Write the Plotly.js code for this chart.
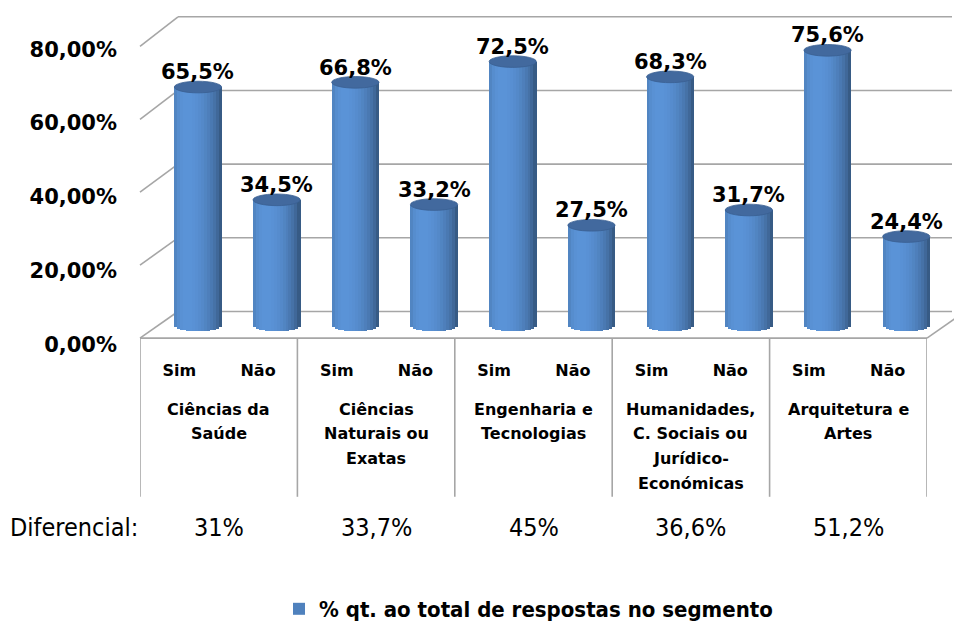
<!DOCTYPE html>
<html><head><meta charset="utf-8">
<script src="https://cdn.plot.ly/plotly-3.0.1.min.js"></script>
<style>html,body{margin:0;padding:0;background:#fff}#chart{width:954px;height:630px}</style>
</head><body><div id="chart"></div>
<script>
// ---- data ----
const categories = ["Ciências da<br>Saúde", "Ciências<br>Naturais ou<br>Exatas", "Engenharia e<br>Tecnologias", "Humanidades,<br>C. Sociais ou<br>Jurídico-<br>Económicas", "Arquitetura e<br>Artes"];
const responses = ["Sim", "Não"];
const simValues = [65.5, 66.8, 72.5, 68.3, 75.6];
const naoValues = [34.5, 33.2, 27.5, 31.7, 24.4];
const diferencial = ["31%", "33,7%", "45%", "36,6%", "51,2%"];
const diferencialLabel = "Diferencial:";
const yTicks = [0, 20, 40, 60, 80];
const yTickLabels = ["0,00%", "20,00%", "40,00%", "60,00%", "80,00%"];
const seriesName = "% qt. ao total de respostas no segmento";

// ---- derived ----
const vals = [], xs = [], tickText = [];
categories.forEach((c, g) => {
  vals.push(simValues[g], naoValues[g]);
  xs.push(2 * g, 2 * g + 1);
  tickText.push(responses[0], responses[1]);
});
const fmt = v => v.toFixed(1).replace('.', ',') + '%';

const W = 954, H = 630;
const px = p => p / W, py = p => 1 - p / H;
const BOLD = "DejaVu Sans";
const NARROW = "DejaVu Sans Condensed";
const gridColor = '#a6a6a6';

// cylinder geometry (style)
const BW = 0.6;      // cylinder width in category units
const E = 1.6;       // ellipse half-height in value units
const K = 16;        // shading strips
const base = [79, 129, 189];
function shade(t) {
  const nx = 2 * t - 1;
  const f = 0.74 + 0.40 * Math.cos(Math.asin(Math.max(-1, Math.min(1, nx))) + 0.45);
  const c = base.map(b => Math.max(0, Math.min(255, Math.round(b * f))));
  return `rgb(${c[0]},${c[1]},${c[2]})`;
}

const traces = [];
traces.push({
  type: 'bar', x: xs, y: vals, base: 0, width: BW * 0.97, cliponaxis: false,
  xaxis: 'x2', yaxis: 'y2', name: seriesName, showlegend: true,
  marker: {color: '#4f81bd', line: {width: 0}}, hoverinfo: 'skip'
});
for (let k = 0; k < K; k++) {
  const tc = (k + 0.5) / K;
  const uc = 2 * tc - 1;
  const b = -E * Math.sqrt(1 - uc * uc);
  traces.push({
    type: 'bar', x: xs, y: vals.map(v => v - b), base: b, cliponaxis: false,
    offset: -BW / 2 + k * BW / K, width: BW / K * 1.08,
    xaxis: 'x2', yaxis: 'y2', showlegend: false, hoverinfo: 'skip',
    marker: {color: shade(tc), line: {width: 0}}
  });
}

const shapes = [];
vals.forEach((v, i) => {
  shapes.push({type: 'circle', xref: 'x2', yref: 'y2', x0: xs[i] - BW / 2, x1: xs[i] + BW / 2,
    y0: v - E, y1: v + E, fillcolor: '#42699e', line: {color: '#3a5f92', width: 0.8}, layer: 'above'});
});
// 3D frame: back wall gridlines and side-wall diagonals
const frontY = v => 343 - v * (343 - 47) / 80;
const backY = v => 316 - v * (316 - 17) / 80;
yTicks.forEach(v => {
  shapes.push({type: 'line', xref: 'paper', yref: 'paper', x0: px(140), y0: py(frontY(v)), x1: px(178), y1: py(backY(v)),
    line: {color: gridColor, width: 1.6}, layer: 'below'});
  shapes.push({type: 'line', xref: 'paper', yref: 'paper', x0: px(178), y0: py(backY(v)), x1: px(952), y1: py(backY(v)),
    line: {color: gridColor, width: 1.6}, layer: 'below'});
});
shapes.push({type: 'line', xref: 'paper', yref: 'paper', x0: px(140), y0: py(343), x1: px(927), y1: py(343), line: {color: gridColor, width: 1.6}, layer: 'below'});
shapes.push({type: 'line', xref: 'paper', yref: 'paper', x0: px(927), y0: py(343), x1: px(965), y1: py(316), line: {color: gridColor, width: 1.6}, layer: 'below'});
for (let g = 0; g <= categories.length; g++) {
  shapes.push({type: 'line', xref: 'x3', yref: 'paper', x0: 2 * g - 0.5, x1: 2 * g - 0.5, y0: py(343), y1: py(504),
    line: {color: gridColor, width: 1.6}, layer: 'below'});
}

const annotations = [];
vals.forEach((v, i) => {
  annotations.push({xref: 'x2', yref: 'y2', x: xs[i], y: v + E, yanchor: 'bottom', yshift: -5, showarrow: false,
    text: fmt(v), font: {family: BOLD, size: 21, color: '#000', weight: 'bold'}});
});
categories.forEach((c, g) => {
  c.split('<br>').forEach((line, j) => {
    annotations.push({xref: 'x3', yref: 'paper', x: 2 * g + 0.5, y: py(415 + 25 * j), yanchor: 'middle', showarrow: false,
      text: line, font: {family: BOLD, size: 16, color: '#000', weight: 'bold'}});
  });
  annotations.push({xref: 'x3', yref: 'paper', x: 2 * g + 0.5, y: py(535), yanchor: 'middle', showarrow: false,
    text: diferencial[g], font: {family: NARROW, size: 25, color: '#000'}});
});
annotations.push({xref: 'paper', yref: 'paper', x: px(8), y: py(535), xanchor: 'left', yanchor: 'middle', showarrow: false,
  text: diferencialLabel, font: {family: NARROW, size: 25, color: '#000'}});

const hidden = {showgrid: false, zeroline: false, showticklabels: false, showline: false, ticks: '', fixedrange: true};
const layout = {
  width: W, height: H, margin: {l: 0, r: 0, t: 0, b: 0},
  paper_bgcolor: '#fff', plot_bgcolor: 'rgba(0,0,0,0)',
  barmode: 'overlay', bargap: 0,
  showlegend: true,
  legend: {orientation: 'h', x: px(279), xanchor: 'left', y: py(618), yanchor: 'middle',
    font: {family: NARROW, size: 22, color: '#000', weight: 'bold'}, bgcolor: 'rgba(0,0,0,0)', itemwidth: 30},
  xaxis2: Object.assign({}, hidden, {domain: [px(158.6), px(945.6)], range: [-0.5, 9.5], anchor: 'y2'}),
  yaxis2: Object.assign({}, hidden, {domain: [py(344.8), py(34.8)], range: [-4, 80], anchor: 'x2'}),
  xaxis3: Object.assign({}, hidden, {domain: [px(140), px(927)], range: [-0.5, 9.5], anchor: 'y3',
    showticklabels: true, tickvals: xs, ticktext: tickText, ticklabelstandoff: 14,
    tickfont: {family: BOLD, size: 16, color: '#000', weight: 'bold'}}),
  yaxis3: Object.assign({}, hidden, {domain: [py(349.5), py(50)], range: [0, 80], anchor: 'x3',
    showticklabels: true, tickvals: yTicks, ticktext: yTickLabels, ticklabelstandoff: 22,
    tickfont: {family: BOLD, size: 21, color: '#000', weight: 'bold'}}),
  shapes: shapes, annotations: annotations
};
Plotly.newPlot('chart', traces, layout, {displayModeBar: false, staticPlot: true});
</script>
</body></html>
